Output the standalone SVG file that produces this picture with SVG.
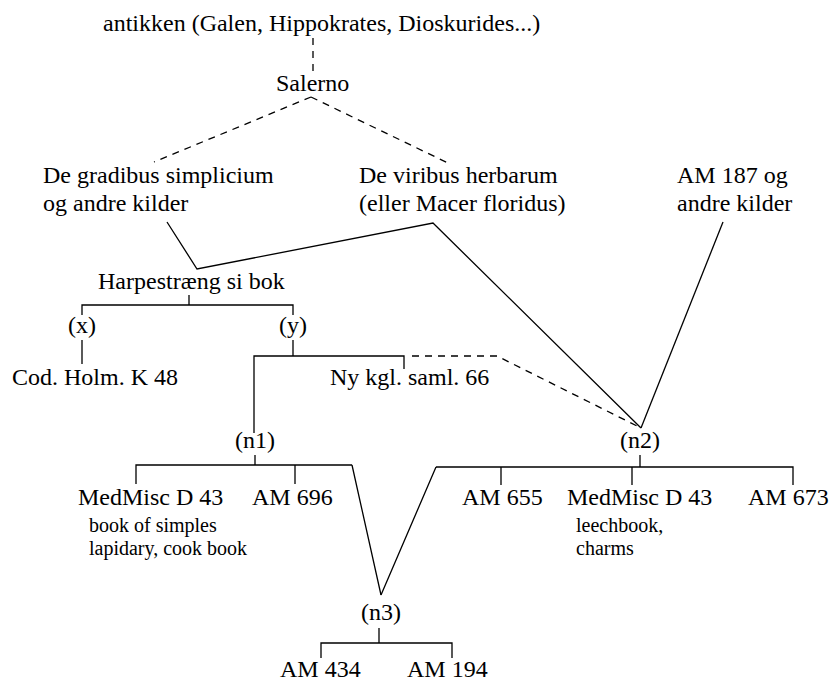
<svg xmlns="http://www.w3.org/2000/svg" width="829" height="681" viewBox="0 0 829 681">
<style>
text{font-family:'Liberation Serif','DejaVu Serif',serif;font-size:24px;fill:#000}
.s{font-size:20px}
.m{text-anchor:middle}
.ln{fill:none;stroke:#000;stroke-width:1.3}
.d{stroke-dasharray:7,6}
</style>
<rect width="829" height="681" fill="#fff"/>
<g id="connectors">
<path class="ln d" d="M313,38V72"/>
<path class="ln d" d="M311,97L154,162M311,97L448,163"/>
<path class="ln d" d="M412,356H497L641,428"/>
<path class="ln" d="M167,222L197,269L433,223L641,428"/>
<path class="ln" d="M723,222L641,428"/>
<path class="ln" d="M189,295V305M82,315V305H293V315"/>
<path class="ln" d="M82,340V364"/>
<path class="ln" d="M293,340V356M254,433V356H404V369"/>
<path class="ln" d="M255,455V465M136,484V465H352M295,465V484M352,465L381,595"/>
<path class="ln" d="M640,455V467M436,467H793V485M501,467V485M632,467V485M436,467L381,595"/>
<path class="ln" d="M379,628V643M321,658V643H452V658"/>
</g>
<g id="antikken"><text x="103" y="31">antikken (Galen, Hippokrates, Dioskurides...)</text></g>
<g id="salerno"><text x="276" y="91">Salerno</text></g>
<g id="gradibus"><text x="43" y="183">De gradibus simplicium</text><text x="43" y="211">og andre kilder</text></g>
<g id="viribus"><text x="359" y="183">De viribus herbarum</text><text x="359" y="211">(eller Macer floridus)</text></g>
<g id="am187"><text x="677" y="183">AM 187 og</text><text x="677" y="211">andre kilder</text></g>
<g id="harpestraeng"><text x="98" y="289">Harpestræng si bok</text></g>
<g id="x"><text class="m" x="82" y="333">(x)</text></g>
<g id="y"><text class="m" x="293" y="333">(y)</text></g>
<g id="codholm"><text x="12" y="385">Cod. Holm. K 48</text></g>
<g id="nykgl"><text x="330" y="385">Ny kgl. saml. 66</text></g>
<g id="n1"><text class="m" x="255" y="448">(n1)</text></g>
<g id="n2"><text class="m" x="640" y="448">(n2)</text></g>
<g id="medmisc1"><text x="78" y="505">MedMisc D 43</text><text class="s" x="89" y="532">book of simples</text><text class="s" x="89" y="555">lapidary, cook book</text></g>
<g id="am696"><text x="252" y="505">AM 696</text></g>
<g id="am655"><text x="462" y="505">AM 655</text></g>
<g id="medmisc2"><text x="567" y="505">MedMisc D 43</text><text class="s" x="576" y="532">leechbook,</text><text class="s" x="576" y="555">charms</text></g>
<g id="am673"><text x="748" y="505">AM 673</text></g>
<g id="n3"><text class="m" x="381" y="620">(n3)</text></g>
<g id="am434"><text x="280" y="677">AM 434</text></g>
<g id="am194"><text x="407" y="677">AM 194</text></g>
</svg>
